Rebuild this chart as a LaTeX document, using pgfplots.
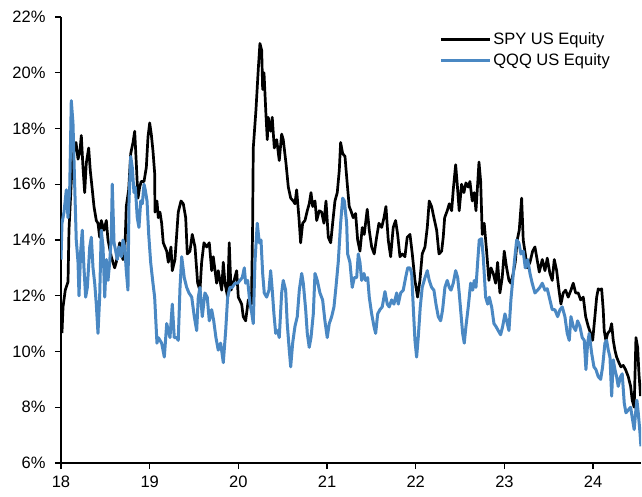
\documentclass[border=0pt]{standalone}
\usepackage{fontspec}
\setmainfont{Liberation Sans}
\usepackage{pgfplots}
\pgfplotsset{compat=1.18}
\definecolor{qqq}{RGB}{74,136,195}

\begin{document}
\begin{tikzpicture}
\begin{axis}[
    width=580bp, height=446bp, scale only axis,
    xmin=18, xmax=24.54,
    ymin=6, ymax=22,
    axis x line*=bottom,
    axis y line*=left,
    axis line style={line width=1.3bp, black},
    tick align=outside,
    major tick length=6bp,
    every tick/.style={line width=1.3bp, black},
    xtick={18,19,20,21,22,23,24},
    xticklabels={18,19,20,21,22,23,24},
    ytick={6,8,10,12,14,16,18,20,22},
    yticklabels={6\%,8\%,10\%,12\%,14\%,16\%,18\%,20\%,22\%},
    tick label style={font=\fontsize{16.5bp}{19bp}\selectfont},
    yticklabel style={xshift=-6bp},
    xticklabel style={yshift=-3bp},
    legend style={
        at={(0.950,0.969)}, anchor=north east,
        draw=none, fill=none,
        font=\fontsize{16.5bp}{19bp}\selectfont,
        row sep=3bp, inner sep=0pt,
    },
    legend cell align=left,
    legend image code/.code={\draw[#1] (0bp,0bp) -- (49bp,0bp);},
    every axis plot/.append style={line join=round},
]

% SPY US Equity
\addplot[black, line width=2.7bp] coordinates {
(18.011,10.66) (18.023,11.6) (18.048,12.2) (18.079,12.5) (18.090,14.35)
(18.116,16.1) (18.135,17.0) (18.169,17.5) (18.192,16.9) (18.214,17.2)
(18.229,17.75) (18.248,16.6) (18.267,15.7) (18.285,16.75) (18.312,17.3)
(18.330,16.5) (18.353,15.8) (18.372,15.2) (18.398,14.7) (18.417,14.6)
(18.436,14.1) (18.454,14.7) (18.485,14.35) (18.511,14.7) (18.530,14.0)
(18.567,13.4) (18.605,13.0) (18.623,13.2) (18.662,13.9) (18.680,13.5)
(18.699,13.3) (18.718,13.4) (18.736,15.2) (18.763,15.8) (18.786,17.1)
(18.812,17.5) (18.831,17.9) (18.849,16.75) (18.868,15.5) (18.887,15.9)
(18.905,16.1) (18.936,16.1) (18.962,16.6) (18.981,17.7) (19.000,18.2)
(19.018,17.8) (19.037,17.2) (19.056,16.4) (19.060,15.0) (19.082,15.4)
(19.097,14.8) (19.116,15.0) (19.135,14.6) (19.153,13.9) (19.192,13.6)
(19.210,13.2) (19.240,13.75) (19.255,12.9) (19.285,13.3) (19.322,15.0)
(19.353,15.4) (19.379,15.3) (19.406,14.8) (19.424,13.5) (19.454,13.6)
(19.480,14.2) (19.511,13.75) (19.541,12.45) (19.567,12.2) (19.586,13.2)
(19.612,13.9) (19.643,13.75) (19.672,13.9) (19.699,12.9) (19.717,13.4)
(19.755,12.45) (19.773,12.9) (19.812,12.2) (19.830,13.2) (19.849,12.45)
(19.879,11.95) (19.897,13.9) (19.917,12.2) (19.943,12.45) (19.981,12.9)
(19.999,11.95) (20.037,11.7) (20.055,11.25) (20.082,11.1) (20.112,11.85)
(20.131,11.7) (20.147,11.7) (20.160,14.3) (20.168,17.3) (20.198,18.65)
(20.224,20.1) (20.243,21.05) (20.263,20.8) (20.274,19.4) (20.289,20.0)
(20.311,18.5) (20.326,17.6) (20.337,18.4) (20.364,17.9) (20.382,18.4)
(20.405,17.3) (20.432,17.6) (20.461,16.85) (20.488,17.8) (20.506,17.6)
(20.537,16.75) (20.563,15.9) (20.590,15.5) (20.619,15.4) (20.638,15.3)
(20.657,15.8) (20.683,14.8) (20.702,13.9) (20.725,14.6) (20.751,14.7)
(20.777,15.05) (20.799,15.3) (20.819,15.7) (20.838,15.2) (20.864,15.4)
(20.883,14.7) (20.912,15.05) (20.939,15.0) (20.965,14.6) (20.988,15.4)
(21.014,14.1) (21.041,13.9) (21.063,14.6) (21.089,15.4) (21.115,15.7)
(21.138,16.5) (21.153,17.5) (21.176,17.1) (21.202,17.0) (21.228,16.0)
(21.250,15.2) (21.269,15.05) (21.295,14.8) (21.322,14.95) (21.345,14.0)
(21.371,13.6) (21.397,14.45) (21.419,14.2) (21.453,15.1) (21.476,14.35)
(21.503,13.75) (21.532,13.5) (21.559,14.1) (21.585,14.6) (21.616,14.45)
(21.642,14.8) (21.664,15.2) (21.690,14.0) (21.717,13.4) (21.746,14.45)
(21.773,14.7) (21.796,14.2) (21.822,13.4) (21.848,13.5) (21.878,13.4)
(21.904,14.1) (21.935,14.2) (21.961,13.5) (21.991,12.55) (22.021,11.95)
(22.047,12.55) (22.073,13.5) (22.104,13.75) (22.130,14.45) (22.152,15.4)
(22.179,15.2) (22.205,14.8) (22.236,14.35) (22.262,13.5) (22.292,13.6)
(22.310,14.1) (22.326,14.8) (22.355,15.05) (22.378,15.3) (22.405,15.05)
(22.423,15.8) (22.450,16.7) (22.468,16.0) (22.490,15.05) (22.517,16.0)
(22.543,15.7) (22.566,16.05) (22.592,15.9) (22.611,16.1) (22.637,15.4)
(22.660,15.7) (22.679,15.05) (22.698,16.0) (22.713,16.8) (22.732,16.1)
(22.750,14.2) (22.772,14.6) (22.799,13.6) (22.825,12.55) (22.848,13.0)
(22.874,12.8) (22.901,12.45) (22.923,13.2) (22.949,12.1) (22.975,12.65)
(22.998,13.6) (23.025,13.0) (23.051,12.55) (23.073,12.45) (23.099,12.8)
(23.122,13.2) (23.144,14.0) (23.167,14.35) (23.194,15.5) (23.212,14.0)
(23.235,13.5) (23.257,13.0) (23.288,13.2) (23.318,13.6) (23.344,13.75)
(23.363,13.4) (23.393,12.85) (23.427,13.3) (23.457,12.9) (23.483,13.35)
(23.513,12.8) (23.539,12.55) (23.562,13.3) (23.589,12.9) (23.615,12.2)
(23.637,11.7) (23.663,12.1) (23.690,12.2) (23.719,11.95) (23.750,12.2)
(23.776,12.45) (23.803,12.1) (23.832,12.1) (23.859,11.85) (23.889,11.95)
(23.916,11.25) (23.945,10.9) (23.972,10.65) (23.995,10.4) (24.020,11.25)
(24.040,11.95) (24.058,12.25) (24.077,12.2) (24.096,12.25) (24.114,11.5)
(24.125,10.75) (24.144,10.4) (24.164,10.65) (24.190,10.75) (24.209,11.0)
(24.227,10.4) (24.246,10.05) (24.265,9.8) (24.291,9.6) (24.313,9.45)
(24.340,9.5) (24.366,9.35) (24.396,9.1) (24.423,8.75) (24.441,8.25)
(24.463,8.0) (24.483,10.5) (24.502,10.15) (24.517,9.2) (24.535,8.4)
};
\addlegendentry{SPY US Equity}

% QQQ US Equity
\addplot[qqq, line width=3.0bp] coordinates {
(18.000,13.3) (18.011,14.6) (18.034,15.0) (18.060,15.8) (18.079,14.8)
(18.098,15.8) (18.116,19.0) (18.135,18.2) (18.154,16.0) (18.172,14.0)
(18.192,13.2) (18.203,12.0) (18.222,13.6) (18.240,14.35) (18.259,13.0)
(18.278,11.95) (18.297,12.3) (18.324,13.75) (18.342,14.1) (18.361,13.0)
(18.380,12.45) (18.398,11.7) (18.417,10.65) (18.436,11.95) (18.454,14.35)
(18.474,13.75) (18.493,11.95) (18.511,13.3) (18.530,12.55) (18.549,13.2)
(18.567,14.1) (18.578,16.0) (18.598,13.9) (18.617,13.6) (18.635,13.3)
(18.654,13.75) (18.680,13.4) (18.699,14.0) (18.718,13.75) (18.736,12.9)
(18.755,12.2) (18.767,15.4) (18.786,17.0) (18.804,16.6) (18.823,15.7)
(18.838,15.9) (18.860,14.8) (18.879,14.45) (18.899,15.4) (18.917,15.3)
(18.936,16.0) (18.950,15.8) (18.970,15.4) (18.989,14.2) (19.011,13.2)
(19.037,12.45) (19.056,11.95) (19.082,10.3) (19.097,10.5) (19.135,10.3)
(19.165,9.8) (19.192,11.0) (19.229,10.5) (19.255,11.7) (19.277,10.5)
(19.304,10.5) (19.322,10.4) (19.342,12.3) (19.361,13.4) (19.390,12.65)
(19.417,12.3) (19.443,12.1) (19.474,11.95) (19.503,11.25) (19.530,10.75)
(19.548,11.95) (19.567,12.3) (19.593,11.25) (19.623,12.1) (19.649,11.95)
(19.672,11.1) (19.699,11.5) (19.722,11.1) (19.747,10.5) (19.773,10.05)
(19.800,10.3) (19.830,9.6) (19.857,10.75) (19.879,11.95) (19.905,12.3)
(19.931,12.3) (19.962,12.45) (19.992,12.45) (20.018,12.55) (20.044,12.65)
(20.067,13.0) (20.082,12.45) (20.105,12.55) (20.131,11.7) (20.150,11.4)
(20.168,11.0) (20.187,13.2) (20.213,14.6) (20.236,13.9) (20.255,14.0)
(20.274,12.8) (20.292,12.1) (20.319,11.95) (20.345,12.2) (20.364,12.9)
(20.382,12.2) (20.401,11.35) (20.421,10.65) (20.443,10.75) (20.461,10.5)
(20.488,12.1) (20.506,12.55) (20.533,12.2) (20.551,11.0) (20.574,10.05)
(20.590,9.45) (20.612,10.3) (20.638,10.9) (20.664,11.25) (20.687,12.2)
(20.714,12.8) (20.732,12.45) (20.759,11.5) (20.777,10.65) (20.799,10.15)
(20.819,10.5) (20.845,11.35) (20.864,12.8) (20.890,12.55) (20.920,12.1)
(20.950,11.85) (20.976,11.1) (21.002,10.5) (21.025,11.0) (21.052,11.25)
(21.078,11.6) (21.100,12.3) (21.126,13.2) (21.153,14.6) (21.176,15.5)
(21.195,15.4) (21.221,14.6) (21.232,13.5) (21.258,13.2) (21.284,12.3)
(21.307,12.65) (21.334,12.65) (21.352,13.5) (21.371,13.2) (21.390,12.55)
(21.416,12.8) (21.435,12.55) (21.458,12.65) (21.476,11.95) (21.503,11.35)
(21.529,10.9) (21.548,10.65) (21.571,11.35) (21.596,11.5) (21.622,11.6)
(21.653,12.15) (21.679,11.7) (21.701,11.6) (21.728,11.85) (21.754,11.7)
(21.785,12.1) (21.803,11.7) (21.830,12.1) (21.859,12.2) (21.886,12.65)
(21.909,13.0) (21.935,13.0) (21.954,12.8) (21.972,11.6) (21.991,10.4)
(22.010,9.8) (22.028,10.5) (22.051,11.6) (22.073,12.3) (22.104,12.65)
(22.130,12.9) (22.152,12.55) (22.179,12.3) (22.205,12.2) (22.228,11.7)
(22.254,11.25) (22.281,11.1) (22.303,11.5) (22.329,12.3) (22.355,12.55)
(22.378,12.3) (22.397,12.2) (22.423,12.45) (22.450,12.9) (22.473,12.65)
(22.490,12.1) (22.510,11.35) (22.529,10.65) (22.547,10.3) (22.566,10.9)
(22.592,11.6) (22.619,12.45) (22.642,12.2) (22.660,12.55) (22.679,12.3)
(22.698,13.2) (22.716,14.0) (22.743,14.05) (22.761,13.4) (22.788,11.95)
(22.811,11.7) (22.829,11.95) (22.856,11.6) (22.882,11.0) (22.904,10.9)
(22.930,10.75) (22.957,10.6) (22.980,10.9) (23.006,11.35) (23.025,11.1)
(23.051,10.75) (23.073,11.85) (23.093,12.55) (23.115,13.3) (23.138,14.0)
(23.163,13.9) (23.186,13.5) (23.212,13.6) (23.235,13.0) (23.262,13.3)
(23.288,12.8) (23.313,12.45) (23.344,12.1) (23.374,12.2) (23.400,12.3)
(23.427,12.45) (23.457,12.2) (23.483,12.25) (23.513,11.85) (23.539,11.5)
(23.569,11.5) (23.600,11.25) (23.626,11.5) (23.652,11.6) (23.682,11.25)
(23.708,10.65) (23.731,10.4) (23.750,11.25) (23.776,10.9) (23.803,10.75)
(23.825,11.1) (23.851,10.9) (23.877,10.5) (23.900,10.4) (23.919,9.35)
(23.938,10.3) (23.956,10.65) (23.983,9.95) (24.009,9.45) (24.032,9.35)
(24.058,9.1) (24.085,9.0) (24.107,9.45) (24.133,10.3) (24.152,10.4)
(24.171,10.05) (24.190,9.8) (24.209,8.4) (24.227,9.7) (24.246,9.35)
(24.265,9.1) (24.283,8.75) (24.310,9.1) (24.328,9.2) (24.351,8.15)
(24.370,7.8) (24.396,7.9) (24.423,8.0) (24.445,7.55) (24.463,7.2)
(24.479,7.8) (24.494,8.25) (24.509,7.8) (24.528,7.1) (24.539,6.6)
};
\addlegendentry{QQQ US Equity}

\end{axis}
\pgfresetboundingbox
\path (current axis.south west) ++(-61bp,-34bp) coordinate (bl);
\path (current axis.north east) ++(1bp,17bp) coordinate (tr);
\useasboundingbox (bl) rectangle (tr);
\end{tikzpicture}
\end{document}
